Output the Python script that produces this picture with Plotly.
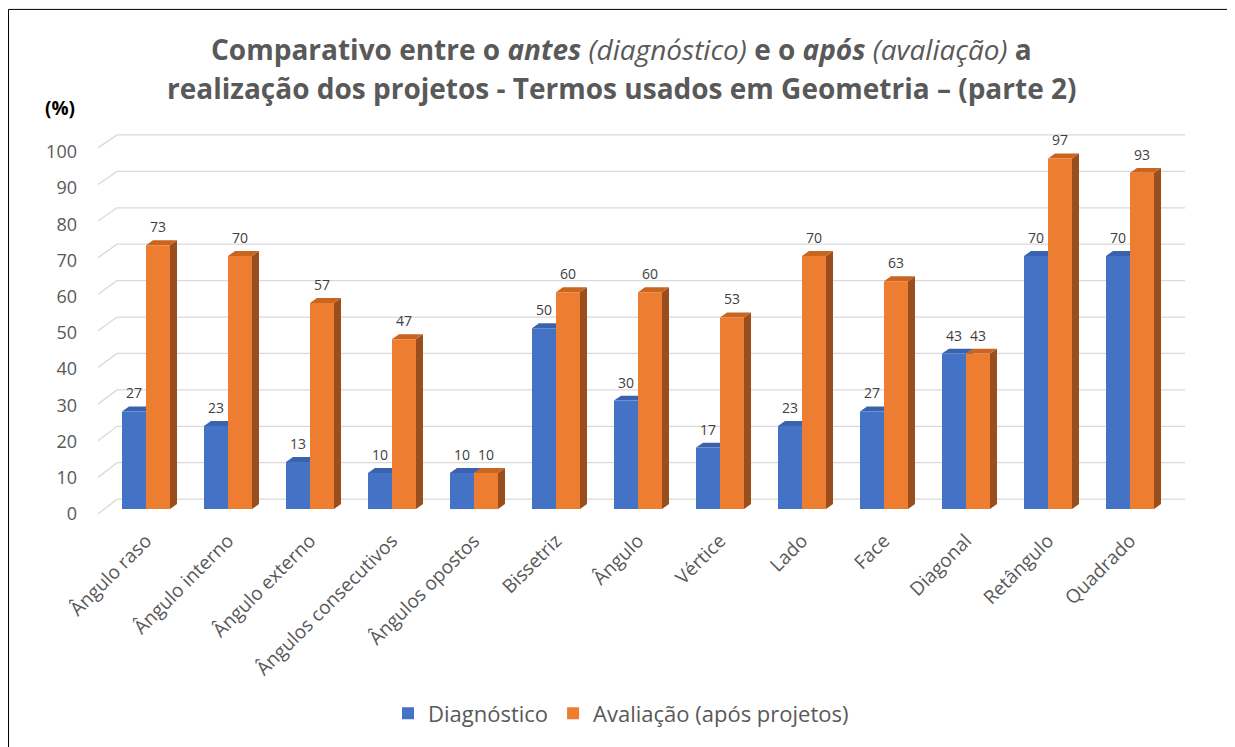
import plotly.graph_objects as go

categories = ["Ângulo raso", "Ângulo interno", "Ângulo externo", "Ângulos consecutivos",
              "Ângulos opostos", "Bissetriz", "Ângulo", "Vértice", "Lado", "Face",
              "Diagonal", "Retângulo", "Quadrado"]
diagnostico = [27, 23, 13, 10, 10, 50, 30, 17, 23, 27, 43, 70, 70]
avaliacao = [73, 70, 57, 47, 10, 60, 60, 53, 70, 63, 43, 97, 93]
series_names = ["Diagnóstico", "Avaliação (após projetos)"]
y_ticks = [0, 10, 20, 30, 40, 50, 60, 70, 80, 90, 100]

# page body has an 8px margin; layout in reference pixels minus that offset
OFF = 8
W, H = 1235 - OFF, 747 - OFF
PL, PR, PT, PB = 98, 1185, 128, 520          # plot area in reference pixels
ZERO_PX = 512                                 # pixel of value 0 (front of bars)
ML = PL - OFF
MR = W - (PR - OFF)
MT = PT - OFF
MB = H - (PB - OFF)
plot_w = W - ML - MR
plot_h = H - MT - MB
cat_px = 82.0            # pixels per category
val_px = 3.643           # pixels per percentage point
X0_PX = 105              # pixel of x = -0.5


def xd(p):
    return (p - X0_PX) / cat_px - 0.5


def yd(p):
    return (ZERO_PX - p) / val_px


x_lo, x_hi = xd(PL), xd(PR)
y_lo, y_hi = yd(PB), yd(PT)
px_x = 1 / cat_px
px_y = 1 / val_px


def px_to_paper_x(rx):
    return (rx - PL) / plot_w


def px_to_paper_y(ry):
    return (PB - ry) / plot_h


bar_w = 24 / cat_px
dx = 7 * px_x
dy = 5 * px_y

blue, blue_top, blue_side = "#4472C4", "#3A62AE", "#2F5496"
orange, orange_top, orange_side = "#ED7D31", "#C9651F", "#9A4E1D"

idx = list(range(len(categories)))
fig = go.Figure()
fig.add_trace(go.Bar(x=[i - bar_w / 2 for i in idx], y=diagnostico, width=bar_w,
                     name=series_names[0], marker=dict(color=blue, line=dict(width=0))))
fig.add_trace(go.Bar(x=[i + bar_w / 2 for i in idx], y=avaliacao, width=bar_w,
                     name=series_names[1], marker=dict(color=orange, line=dict(width=0))))

shapes = []
annotations = []

# back-wall gridlines with the 3D side stub (perspective: front 0 at 517px, back 0 at 502px)
x_wall = xd(117)
tick_pos = []
for v in y_ticks:
    y_front = yd(517 - 3.69 * v)
    y_back = yd(502 - 3.67 * v)
    tick_pos.append(yd(517 - 3.65 * v))
    gpath = f"M {x_lo},{y_front} L {x_wall},{y_back} L {x_hi},{y_back}"
    shapes.append(dict(type="path", path=gpath, xref="x", yref="y",
                       line=dict(color="#D9D9D9", width=1.3), layer="below"))

for s, (vals, top_c, side_c) in enumerate([(diagnostico, blue_top, blue_side),
                                            (avaliacao, orange_top, orange_side)]):
    for i, v in zip(idx, vals):
        x0 = i - bar_w + s * bar_w
        x1 = x0 + bar_w
        side = f"M {x1},0 L {x1+dx},{dy} L {x1+dx},{v+dy} L {x1},{v} Z"
        top = f"M {x0},{v} L {x0+dx},{v+dy} L {x1+dx},{v+dy} L {x1},{v} Z"
        shapes.append(dict(type="path", path=side, xref="x", yref="y", fillcolor=side_c,
                           line=dict(width=0), layer="between"))
        shapes.append(dict(type="path", path=top, xref="x", yref="y", fillcolor=top_c,
                           line=dict(width=0), layer="between"))
        annotations.append(dict(x=(x0 + x1) / 2, y=v, xref="x", yref="y",
                                text=str(v), showarrow=False, yanchor="bottom", yshift=7,
                                font=dict(family="Open Sans", size=14, color="#404040")))

# outer border
shapes.append(dict(type="rect", xref="paper", yref="paper",
                   x0=px_to_paper_x(OFF + 0.5), x1=px_to_paper_x(1230),
                   y0=px_to_paper_y(780), y1=px_to_paper_y(OFF + 0.5),
                   line=dict(color="black", width=1), fillcolor="rgba(0,0,0,0)", layer="above"))

title_font = dict(family="Open Sans", size=28, color="#595959")
annotations.append(dict(xref="paper", yref="paper", x=px_to_paper_x(621), xanchor="center",
                        y=px_to_paper_y(48), yanchor="middle", showarrow=False, font=title_font,
                        text="<b>Comparativo entre o <i>antes</i></b> <i>(diagnóstico)</i> "
                             "<b>e o <i>após</i></b> <i>(avaliação)</i> <b>a</b>"))
annotations.append(dict(xref="paper", yref="paper", x=px_to_paper_x(621), xanchor="center",
                        y=px_to_paper_y(88), yanchor="middle", showarrow=False, font=title_font,
                        text="<b>realização dos projetos - Termos usados em Geometria – (parte 2)</b>"))
annotations.append(dict(xref="paper", yref="paper", x=px_to_paper_x(60), xanchor="center",
                        y=px_to_paper_y(108), yanchor="middle", showarrow=False,
                        text="<b>(%)</b>", font=dict(family="Open Sans", size=19, color="black")))

fig.update_layout(
    width=W, height=H,
    margin=dict(l=ML, r=MR, t=MT, b=MB),
    paper_bgcolor="white", plot_bgcolor="white",
    barmode="overlay",
    showlegend=True,
    legend=dict(orientation="h", x=px_to_paper_x(621), xanchor="center",
                y=px_to_paper_y(718), yanchor="middle",
                font=dict(family="Open Sans", size=22, color="#595959"),
                itemwidth=30, traceorder="normal"),
    xaxis=dict(range=[x_lo, x_hi], tickmode="array", tickvals=idx, ticktext=categories,
               tickangle=-45, showgrid=False, zeroline=False, showline=False, ticks="",
               ticklabelstandoff=8,
               tickfont=dict(family="Open Sans", size=19, color="#595959")),
    yaxis=dict(range=[y_lo, y_hi], tickmode="array", tickvals=tick_pos,
               ticktext=[str(v) for v in y_ticks],
               showgrid=False, zeroline=False,
               showline=False, ticks="", ticklabelstandoff=20,
               tickfont=dict(family="Open Sans", size=18, color="#595959")),
    shapes=shapes, annotations=annotations,
)

fig.write_html("out.html")
